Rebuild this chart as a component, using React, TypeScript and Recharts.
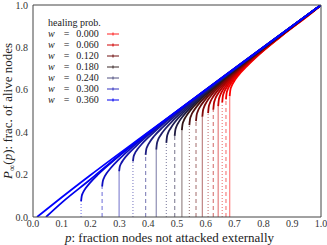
import React from 'react';
import { LineChart, Line, XAxis, YAxis } from 'recharts';

// healing probability shown in the legend (every third curve)
const LEGEND_W = ['0.000', '0.060', '0.120', '0.180', '0.240', '0.300', '0.360'];

const X_TICKS = [0, 0.1, 0.2, 0.3, 0.4, 0.5, 0.6, 0.7, 0.8, 0.9, 1];
const Y_TICKS = [0, 0.2, 0.4, 0.6, 0.8, 1];

// [p, P_inf]; first point is the jump
const c00 = [[0.683, 0.570], [0.685, 0.597], [0.689, 0.616], [0.698, 0.639], [0.713, 0.668], [0.743, 0.712], [0.783, 0.764], [0.863, 0.854], [0.983, 0.980], [1, 1]];
const c01 = [[0.670, 0.555], [0.672, 0.582], [0.676, 0.601], [0.685, 0.625], [0.700, 0.654], [0.730, 0.699], [0.770, 0.750], [0.850, 0.841], [0.970, 0.967], [1, 1]];
const c02 = [[0.657, 0.540], [0.659, 0.568], [0.663, 0.587], [0.672, 0.611], [0.687, 0.640], [0.717, 0.685], [0.757, 0.737], [0.837, 0.828], [0.957, 0.954], [1, 1]];
const c03 = [[0.643, 0.523], [0.645, 0.551], [0.649, 0.571], [0.658, 0.596], [0.673, 0.625], [0.703, 0.671], [0.743, 0.723], [0.823, 0.814], [0.943, 0.940], [1, 1]];
const c04 = [[0.626, 0.506], [0.628, 0.534], [0.632, 0.554], [0.641, 0.579], [0.656, 0.608], [0.686, 0.654], [0.726, 0.706], [0.806, 0.797], [0.926, 0.923], [1, 1]];
const c05 = [[0.608, 0.490], [0.610, 0.518], [0.614, 0.537], [0.623, 0.562], [0.638, 0.591], [0.668, 0.636], [0.708, 0.688], [0.788, 0.779], [0.908, 0.905], [1, 1]];
const c06 = [[0.588, 0.473], [0.590, 0.500], [0.594, 0.519], [0.603, 0.543], [0.618, 0.572], [0.648, 0.617], [0.688, 0.668], [0.768, 0.759], [0.888, 0.885], [1, 1]];
const c07 = [[0.566, 0.452], [0.568, 0.479], [0.572, 0.498], [0.581, 0.522], [0.596, 0.550], [0.626, 0.595], [0.666, 0.647], [0.746, 0.737], [0.866, 0.863], [1, 1]];
const c08 = [[0.543, 0.433], [0.545, 0.459], [0.549, 0.478], [0.558, 0.501], [0.573, 0.529], [0.603, 0.573], [0.643, 0.624], [0.723, 0.715], [0.843, 0.840], [1, 1]];
const c09 = [[0.517, 0.410], [0.519, 0.436], [0.523, 0.453], [0.532, 0.476], [0.547, 0.504], [0.577, 0.548], [0.617, 0.599], [0.697, 0.689], [0.817, 0.814], [1, 1]];
const c10 = [[0.492, 0.383], [0.494, 0.409], [0.498, 0.427], [0.507, 0.450], [0.522, 0.478], [0.552, 0.523], [0.592, 0.574], [0.672, 0.664], [0.792, 0.789], [1, 1]];
const c11 = [[0.463, 0.350], [0.465, 0.377], [0.469, 0.396], [0.478, 0.419], [0.493, 0.448], [0.523, 0.493], [0.563, 0.544], [0.643, 0.635], [0.763, 0.760], [1, 1]];
const c12 = [[0.428, 0.318], [0.430, 0.344], [0.434, 0.363], [0.443, 0.386], [0.458, 0.414], [0.488, 0.458], [0.528, 0.509], [0.608, 0.600], [0.728, 0.725], [1, 1]];
const c13 = [[0.391, 0.293], [0.393, 0.317], [0.397, 0.333], [0.406, 0.355], [0.421, 0.382], [0.451, 0.424], [0.491, 0.474], [0.571, 0.564], [0.691, 0.689], [1, 1]];
const c14 = [[0.347, 0.262], [0.349, 0.283], [0.353, 0.298], [0.362, 0.318], [0.377, 0.343], [0.407, 0.384], [0.447, 0.433], [0.527, 0.521], [0.647, 0.645], [1, 1]];
const c15 = [[0.299, 0.215], [0.301, 0.236], [0.305, 0.250], [0.314, 0.270], [0.329, 0.295], [0.359, 0.336], [0.399, 0.385], [0.479, 0.473], [0.599, 0.597], [1, 1]];
const c16 = [[0.240, 0.143], [0.242, 0.166], [0.246, 0.183], [0.255, 0.205], [0.270, 0.231], [0.300, 0.274], [0.340, 0.324], [0.420, 0.413], [0.540, 0.538], [1, 1]];
const c17 = [[0.167, 0.075], [0.169, 0.097], [0.173, 0.113], [0.182, 0.134], [0.197, 0.160], [0.227, 0.202], [0.267, 0.251], [0.347, 0.340], [0.467, 0.465], [1, 1]];
// no jump for the two largest healing probabilities
const c18 = [[0.045, 0], [0.1, 0.068], [0.2, 0.178], [0.3, 0.292], [0.4, 0.397], [0.5, 0.499], [1, 1]];
const c19 = [[0.014, 0], [0.1, 0.093], [0.2, 0.198], [0.4, 0.4], [1, 1]];

const JUMP_CURVES = [c00, c01, c02, c03, c04, c05, c06, c07, c08, c09, c10, c11, c12, c13, c14, c15, c16, c17];
const CONT_CURVES = [c18, c19];

const COLORS = [
    '#ff0000', '#f00000', '#e00000', '#cc0000', '#b40000', '#9a0404', '#800808', '#660c0c', '#4c1010', '#331414',
    '#1e1a40', '#1c1c55', '#20206a', '#1c1c80', '#181895', '#1414aa', '#0c0cc0', '#0606d8', '#0000ee', '#0000ff'
];
const SWATCH = ['#ff2020', '#d00000', '#701010', '#3a2828', '#505080', '#3030c0', '#0000f0'];
const DASHES = [undefined, '4 3', '1 2'];

const FONT = "'Liberation Serif', Tinos, 'DejaVu Serif', serif";
const FRAME = '#444';
const tickStyle = { fontSize: 10, fill: '#333', fontFamily: FONT };

const toRows = (c: number[][]) => c.map(([p, y]) => ({ p, y }));
const fmt = (v: number) => v.toFixed(1);

export default function App() {
    return (
        <div style={{ position: 'absolute', left: 0, top: 0, width: 327, height: 245, background: '#fff', fontFamily: FONT }}>
            <LineChart width={327} height={245} margin={{ top: 5, right: 6, bottom: 0, left: 0 }} style={{ fontFamily: FONT }}>
                <XAxis xAxisId="b" type="number" dataKey="p" domain={[0, 1]} ticks={X_TICKS} interval={0}
                    tickFormatter={fmt} height={28} tickLine={false} tickSize={3} tickMargin={0}
                    axisLine={{ stroke: FRAME }} tick={tickStyle} allowDataOverflow />
                <XAxis xAxisId="bt" type="number" dataKey="p" domain={[0, 1]} ticks={X_TICKS} interval={0}
                    mirror tick={false} tickLine={{ stroke: FRAME }} tickSize={4} axisLine={false} allowDataOverflow />
                <XAxis xAxisId="tt" orientation="top" type="number" dataKey="p" domain={[0, 1]} ticks={X_TICKS} interval={0}
                    mirror tick={false} tickLine={{ stroke: FRAME }} tickSize={4} axisLine={{ stroke: FRAME }} allowDataOverflow />
                <YAxis yAxisId="l" type="number" domain={[0, 1]} ticks={Y_TICKS} interval={0} width={33}
                    tickFormatter={fmt} tickLine={false} tickSize={5} tickMargin={0}
                    axisLine={{ stroke: FRAME }} tick={tickStyle} allowDataOverflow />
                <YAxis yAxisId="lt" type="number" domain={[0, 1]} ticks={Y_TICKS} interval={0}
                    mirror tick={false} tickLine={{ stroke: FRAME }} tickSize={4} axisLine={false} allowDataOverflow />
                <YAxis yAxisId="rt" orientation="right" type="number" domain={[0, 1]} ticks={Y_TICKS} interval={0}
                    mirror tick={false} tickLine={{ stroke: FRAME }} tickSize={4} axisLine={{ stroke: FRAME }} allowDataOverflow />

                {/* vertical drops at the transition */}
                {JUMP_CURVES.map((c, k) => (
                    <Line key={`v${k}`} xAxisId="b" yAxisId="l" type="linear" dataKey="y"
                        data={[{ p: c[0][0], y: 0 }, { p: c[0][0], y: c[0][1] }]}
                        stroke={COLORS[k]} strokeOpacity={0.5} strokeWidth={1.2}
                        strokeDasharray={DASHES[k % 3]} dot={false} activeDot={false} isAnimationActive={false} />
                ))}
                {JUMP_CURVES.map((c, k) => (
                    <Line key={`c${k}`} xAxisId="b" yAxisId="l" type="monotoneX" dataKey="y" data={toRows(c)}
                        stroke={COLORS[k]} strokeWidth={1.8} dot={false} activeDot={false} isAnimationActive={false} />
                ))}
                {CONT_CURVES.map((c, i) => (
                    <Line key={`n${i}`} xAxisId="b" yAxisId="l" type="monotoneX" dataKey="y" data={toRows(c)}
                        stroke={COLORS[18 + i]} strokeWidth={1.8} dot={false} activeDot={false} isAnimationActive={false} />
                ))}
            </LineChart>

            {/* legend */}
            <div style={{ position: 'absolute', left: 48, top: 17, fontSize: 10, lineHeight: '11px', color: '#222' }}>
                <div style={{ height: 11 }}>healing prob.</div>
                {LEGEND_W.map((w, i) => (
                    <div key={w} style={{ position: 'relative', height: 11, whiteSpace: 'nowrap' }}>
                        <i>w</i>
                        <span style={{ marginLeft: 9 }}>=</span>
                        <span style={{ marginLeft: 7 }}>{w}</span>
                        <svg width={14} height={11} style={{ position: 'absolute', left: 58, top: 0 }}>
                            <line x1={1} x2={13} y1={6} y2={6} stroke={SWATCH[i]} strokeWidth={1} />
                            <line x1={7} x2={7} y1={4.5} y2={7.5} stroke={SWATCH[i]} strokeWidth={1} />
                        </svg>
                    </div>
                ))}
            </div>

            {/* axis titles */}
            <div style={{ position: 'absolute', left: 169.5, top: 231, transform: 'translateX(-50%)', fontSize: 13, lineHeight: '13px', whiteSpace: 'nowrap', color: '#222' }}>
                <i>p</i>: fraction nodes not attacked externally
            </div>
            <div style={{ position: 'absolute', left: 7.5, top: 111, transform: 'translate(-50%, -50%) rotate(-90deg)', fontSize: 13, lineHeight: '13px', whiteSpace: 'nowrap', color: '#222' }}>
                <i>P</i><span style={{ fontSize: 9, position: 'relative', top: 3 }}>∞</span>(<i>p</i>): frac. of alive nodes
            </div>
        </div>
    );
}
